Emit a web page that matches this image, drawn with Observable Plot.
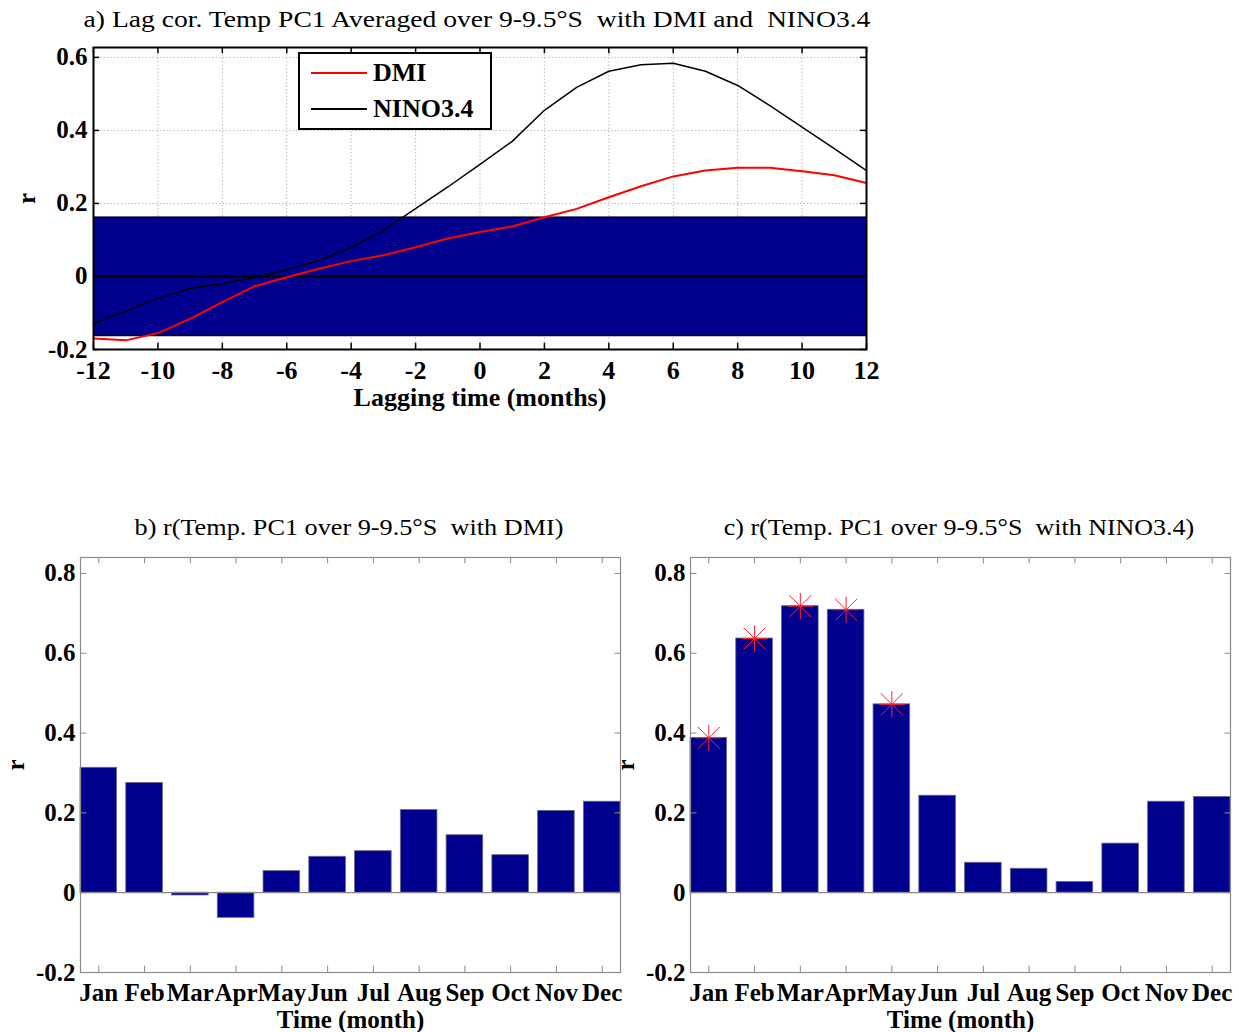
<!DOCTYPE html>
<html>
<head>
<meta charset="utf-8">
<script src="https://cdn.jsdelivr.net/npm/d3@7"></script>
<script src="https://cdn.jsdelivr.net/npm/@observablehq/plot@0.6"></script>
<style>
  body { margin: 0; background: #fff; }
  #wrap { position: relative; width: 1239px; height: 1032px; background: #fff; font-family: "Liberation Serif", "Times New Roman", serif; color: #000; }
  .panel { position: absolute; }
  .title { position: absolute; text-align: center; font-size: 23px; white-space: pre; }
  #legend { position: absolute; left: 298px; top: 52px; width: 190px; height: 74px; border: 2px solid #000; background: #fff; font-weight: bold; font-size: 26px; }
  #legend .sw { position: absolute; left: 11px; width: 56px; height: 2px; }
  #legend .lab { position: absolute; left: 73px; line-height: 26px; }
</style>
</head>
<body>
<div id="wrap">
  <div class="title" style="left:-3px; width:960px; top:7px; transform: scaleX(1.2);">a) Lag cor. Temp PC1 Averaged over 9-9.5°S  with DMI and  NINO3.4</div>
  <div id="panelA" class="panel" style="left:0; top:0;"></div>
  <div id="legend">
    <div class="sw" style="top:18px; background:#ff0000;"></div>
    <div class="lab" style="top:6px;">DMI</div>
    <div class="sw" style="top:54px; background:#000;"></div>
    <div class="lab" style="top:42px;">NINO3.4</div>
  </div>
  <div class="title" style="left:99px; width:500px; top:515px; transform: scaleX(1.14);">b) r(Temp. PC1 over 9-9.5°S  with DMI)</div>
  <div class="title" style="left:709px; width:500px; top:515px; transform: scaleX(1.13);">c) r(Temp. PC1 over 9-9.5°S  with NINO3.4)</div>
  <div id="panelB" class="panel" style="left:0; top:540px;"></div>
  <div id="panelC" class="panel" style="left:610px; top:540px;"></div>
</div>
<script>
// ---------- data ----------
const lags = [-12,-11,-10,-9,-8,-7,-6,-5,-4,-3,-2,-1,0,1,2,3,4,5,6,7,8,9,10,11,12];
const dmiLag = [-0.170,-0.175,-0.155,-0.116,-0.070,-0.027,-0.002,0.021,0.042,0.058,0.080,0.104,0.122,0.137,0.162,0.185,0.217,0.247,0.274,0.290,0.298,0.298,0.288,0.277,0.256];
const ninoLag = [-0.130,-0.095,-0.060,-0.033,-0.019,-0.003,0.018,0.044,0.079,0.126,0.186,0.245,0.307,0.370,0.455,0.518,0.562,0.580,0.584,0.562,0.523,0.468,0.409,0.350,0.290];
const sigThreshold = 0.162;
const lagTicks = [-12,-10,-8,-6,-4,-2,0,2,4,6,8,10,12];
const rTicksTop = [-0.2,0,0.2,0.4,0.6];

const months = ["Jan","Feb","Mar","Apr","May","Jun","Jul","Aug","Sep","Oct","Nov","Dec"];
const rDmi  = [0.313,0.275,-0.007,-0.063,0.054,0.090,0.104,0.207,0.144,0.094,0.205,0.228];
const rNino = [0.388,0.637,0.718,0.709,0.472,0.243,0.075,0.060,0.027,0.123,0.228,0.240];
const sigNinoMonths = ["Jan","Feb","Mar","Apr","May"];
const rTicksBottom = [-0.2,0,0.2,0.4,0.6,0.8];

// ---------- styles ----------
const navy = "#00008E";
const fmt = d => String(+(+d).toFixed(1));
const font = {fontFamily: "'Liberation Serif', 'Times New Roman', serif", fontSize: "25px", fontWeight: "bold", background: "transparent", overflow: "visible"};
// inward tick symbols (fixed 6px length)
const tickRight = {draw(ctx) { ctx.moveTo(0, 0); ctx.lineTo(6, 0); }};
const tickLeft  = {draw(ctx) { ctx.moveTo(0, 0); ctx.lineTo(-6, 0); }};

// ---------- panel a ----------
const yTop = [-0.2, 0.627];
const xTop = [-12, 12];
const tkY = 0.017, tkX = 0.19;
const chartA = Plot.plot({
  width: 900, height: 420,
  marginLeft: 93, marginRight: 34, marginTop: 47, marginBottom: 71,
  style: font,
  x: {domain: xTop},
  y: {domain: yTop},
  marks: [
    Plot.ruleX(lagTicks.slice(1, -1), {x: d => d, stroke: "#bdbdbd", strokeDasharray: "1.5,2"}),
    Plot.ruleY(rTicksTop.slice(2), {y: d => d, stroke: "#bdbdbd", strokeDasharray: "1.5,2"}),
    Plot.rect([sigThreshold], {x1: xTop[0], x2: xTop[1], y1: d => -d, y2: d => d, fill: navy}),
    Plot.ruleY([sigThreshold, -sigThreshold], {y: d => d, stroke: "#000", strokeWidth: 1.5}),
    Plot.ruleY([0], {stroke: "#000", strokeWidth: 2}),
    Plot.line(lags, {x: d => d, y: (d, i) => dmiLag[i], stroke: "#ff0000", strokeWidth: 2}),
    Plot.line(lags, {x: d => d, y: (d, i) => ninoLag[i], stroke: "#000", strokeWidth: 1.5}),
    Plot.ruleX(lagTicks, {x: d => d, y1: yTop[0], y2: yTop[0] + tkY, stroke: "#000", strokeWidth: 1.5}),
    Plot.ruleX(lagTicks, {x: d => d, y1: yTop[1], y2: yTop[1] - tkY, stroke: "#000", strokeWidth: 1.5}),
    Plot.ruleY(rTicksTop, {y: d => d, x1: xTop[0], x2: xTop[0] + tkX, stroke: "#000", strokeWidth: 1.5}),
    Plot.ruleY(rTicksTop, {y: d => d, x1: xTop[1], x2: xTop[1] - tkX, stroke: "#000", strokeWidth: 1.5}),
    Plot.frame({stroke: "#000", strokeWidth: 2}),
    Plot.axisX({ticks: lagTicks, tickSize: 0, tickPadding: 11, tickFormat: fmt, label: "Lagging time (months)", labelAnchor: "center", labelArrow: "none", labelOffset: 56, fontSize: 26}),
    Plot.axisY({ticks: rTicksTop, tickSize: 0, tickPadding: 6, tickFormat: fmt, label: "r", labelAnchor: "center", labelArrow: "none", labelOffset: 76})
  ]
});
document.getElementById("panelA").append(chartA);

// ---------- panels b, c ----------
function barPanel(values, sigMonths, marginRight) {
  const data = months.map((m, i) => ({month: m, r: values[i]}));
  const sig = data.filter(d => sigMonths.includes(d.month));
  const yDom = [-0.2, 0.84];
  const tk = 0.016;
  const gray = "#8a8a8a";
  return Plot.plot({
    width: 80 + 540 + marginRight, height: 492,
    marginLeft: 80, marginRight, marginTop: 17, marginBottom: 60,
    style: font,
    x: {type: "band", domain: months, paddingInner: 0.2, paddingOuter: 0, round: false},
    y: {domain: yDom},
    marks: [
      Plot.barY(data, {x: "month", y: "r", fill: navy, stroke: "#6a6a8a", strokeWidth: 0.8}),
      Plot.ruleY([0], {stroke: gray, strokeWidth: 1.2}),
      Plot.ruleX(months, {x: d => d, y1: yDom[0], y2: yDom[0] + tk, stroke: gray}),
      Plot.ruleX(months, {x: d => d, y1: yDom[1], y2: yDom[1] - tk, stroke: gray}),
      Plot.dot(rTicksBottom, {y: d => d, frameAnchor: "left", symbol: tickRight, stroke: gray, strokeWidth: 1}),
      Plot.dot(rTicksBottom, {y: d => d, frameAnchor: "right", symbol: tickLeft, stroke: gray, strokeWidth: 1}),
      Plot.dot(sig, {x: "month", y: "r", symbol: "plus", r: 8.5, stroke: "#ff2030", strokeWidth: 1}),
      Plot.dot(sig, {x: "month", y: "r", symbol: "times", r: 10, stroke: "#ff2030", strokeWidth: 1}),
      Plot.frame({stroke: gray, strokeWidth: 1.2}),
      Plot.axisX({tickSize: 0, tickPadding: 11, label: "Time (month)", labelAnchor: "center", labelArrow: "none", labelOffset: 55}),
      Plot.axisY({ticks: rTicksBottom, tickSize: 0, tickPadding: 5, tickFormat: fmt, label: "r", labelAnchor: "center", labelArrow: "none", labelOffset: 74})
    ]
  });
}
document.getElementById("panelB").append(barPanel(rDmi, [], 20));
document.getElementById("panelC").append(barPanel(rNino, sigNinoMonths, 9));
</script>
</body>
</html>
